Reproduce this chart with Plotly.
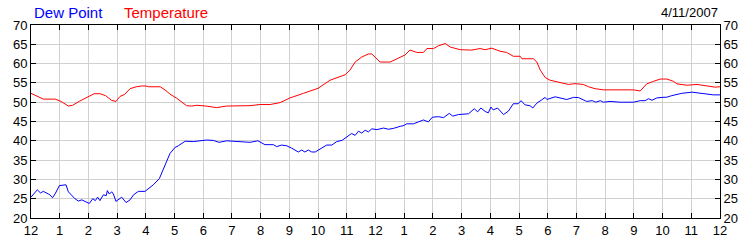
import plotly.graph_objects as go

# Hours since midnight (0..24) and readings
temp_hours = [0, 0.2, 0.43, 0.84, 1.05, 1.3, 1.45, 1.7, 1.95, 2.2, 2.4, 2.6, 2.8, 2.96, 3.1, 3.26, 3.45,
              3.67, 3.85, 4.0, 4.1, 4.5, 4.7, 4.84, 5.08, 5.25, 5.42, 5.6, 5.77, 6.1, 6.47, 6.81, 7.3,
              7.63, 7.98, 8.33, 8.68, 9.02, 9.49, 10.0, 10.42, 10.94, 11.11, 11.29, 11.52, 11.75, 11.87,
              12.16, 12.51, 12.74, 13.03, 13.2, 13.44, 13.67, 13.79, 14.02, 14.19, 14.43, 14.6, 14.95,
              15.35, 15.64, 15.82, 16.05, 16.34, 16.57, 16.8, 17.04, 17.1, 17.5, 17.62, 17.74, 17.91,
              18.08, 18.37, 18.72, 18.95, 19.24, 19.42, 19.65, 19.94, 20.99, 21.22, 21.45, 21.68, 21.92,
              22.15, 22.38, 22.5, 22.85, 23.2, 23.54, 23.83, 24.0]
temperature = [52.3, 51.6, 50.8, 50.8, 50.2, 49.0, 49.2, 50.3, 51.3, 52.2, 52.2, 51.7, 50.5, 50.2, 51.5,
               52.0, 53.5, 54.0, 54.2, 54.2, 54.0, 54.0, 53.0, 52.1, 51.0, 50.0, 49.1, 49.0, 49.2, 49.0,
               48.6, 49.0, 49.0, 49.1, 49.4, 49.4, 49.9, 51.1, 52.3, 53.6, 55.7, 57.1, 58.3, 60.4, 61.7,
               62.5, 62.5, 60.4, 60.4, 61.25, 62.25, 63.5, 62.9, 62.9, 63.9, 63.9, 64.6, 65.2, 64.3, 63.6,
               63.5, 63.9, 63.6, 64.0, 63.2, 62.9, 61.9, 61.9, 61.25, 61.25, 60.4, 58.3, 56.4, 55.7, 55.2,
               54.6, 54.8, 54.6, 54.0, 53.5, 53.2, 53.2, 52.9, 54.75, 55.4, 56.0, 56.0, 55.4, 54.75, 54.4,
               54.6, 54.3, 53.9, 54.0]

dew_hours = [0, 0.22, 0.33, 0.43, 0.6, 0.66, 0.75, 0.84, 0.99, 1.13, 1.22, 1.3, 1.42, 1.53, 1.65, 1.77,
             1.88, 2.03, 2.15, 2.24, 2.32, 2.4, 2.52, 2.62, 2.66, 2.73, 2.81, 2.87, 2.96, 3.16, 3.31, 3.45,
             3.57, 3.74, 3.97, 4.26, 4.47, 4.61, 4.73, 4.84, 5.02, 5.13, 5.37, 5.66, 6.12, 6.35, 6.55, 6.82,
             7.17, 7.52, 7.63, 7.9, 8.15, 8.44, 8.56, 8.73, 8.91, 9.08, 9.2, 9.31, 9.43, 9.54, 9.66, 9.78,
             9.9, 10.01, 10.13, 10.3, 10.48, 10.65, 10.83, 11.0, 11.17, 11.29, 11.41, 11.52, 11.64, 11.75,
             11.87, 12.05, 12.28, 12.45, 12.62, 12.86, 12.96, 13.09, 13.32, 13.67, 13.84, 13.98, 14.19,
             14.37, 14.57, 14.69, 14.89, 15.24, 15.44, 15.56, 15.67, 15.82, 15.93, 16.02, 16.1, 16.25,
             16.46, 16.63, 16.8, 16.97, 17.07, 17.21, 17.38, 17.48, 17.62, 17.79, 17.91, 17.97, 18.26,
             18.66, 18.9, 19.07, 19.36, 19.55, 19.67, 19.83, 19.94, 20.17, 20.52, 20.99, 21.22, 21.39,
             21.51, 21.63, 21.8, 21.98, 22.15, 22.32, 22.67, 23.02, 23.25, 23.54, 23.77, 24.0]
dew_point = [25.4, 27.3, 26.5, 26.9, 26.25, 26.0, 25.25, 26.25, 28.4, 28.6, 28.6, 26.8, 25.8, 25.0, 24.4,
             24.7, 24.3, 23.75, 25.0, 24.5, 25.4, 24.5, 26.0, 25.8, 27.1, 26.2, 26.8, 26.2, 24.3, 25.4,
             24.0, 24.7, 26.0, 26.9, 26.9, 28.6, 30.2, 32.9, 34.75, 36.7, 38.3, 38.7, 39.9, 39.8, 40.2,
             40.1, 39.6, 40.0, 39.8, 39.6, 39.6, 40.0, 39.0, 39.0, 38.5, 38.9, 38.7, 38.1, 37.5, 37.1,
             37.6, 37.1, 37.6, 37.1, 37.1, 37.6, 38.3, 38.9, 38.9, 39.8, 40.1, 41.1, 41.9, 41.4, 42.5,
             42.0, 42.75, 42.3, 43.1, 42.9, 43.3, 43.0, 43.2, 43.75, 43.9, 44.4, 44.4, 45.4, 44.9, 46.1,
             46.25, 46.0, 47.1, 46.4, 46.8, 47.0, 48.3, 47.5, 48.5, 47.6, 47.25, 48.75, 48.0, 48.5, 46.8,
             47.7, 49.6, 49.6, 50.4, 49.3, 49.1, 48.5, 49.75, 50.6, 51.25, 50.7, 51.4, 50.7, 51.25, 51.2,
             50.2, 50.4, 50.0, 50.4, 50.0, 50.2, 50.0, 50.0, 50.4, 50.4, 50.9, 50.5, 51.1, 51.25, 51.3,
             51.7, 52.3, 52.6, 52.4, 52.25, 51.9, 51.9]

x_tick_vals = list(range(0, 25))
x_tick_text = ["12", "1", "2", "3", "4", "5", "6", "7", "8", "9", "10", "11",
               "12", "1", "2", "3", "4", "5", "6", "7", "8", "9", "10", "11", "12"]
y_tick_vals = [20, 25, 30, 35, 40, 45, 50, 55, 60, 65, 70]
date_label = "4/11/2007"

FONT = "Liberation Sans, Arial, sans-serif"
GRID = "#d0d0d0"

fig = go.Figure()
fig.add_trace(go.Scatter(x=dew_hours, y=dew_point, mode="lines", name="Dew Point",
                         line=dict(color="#0000ff", width=1), yaxis="y"))
fig.add_trace(go.Scatter(x=temp_hours, y=temperature, mode="lines", name="Temperature",
                         line=dict(color="#ff0000", width=1), yaxis="y2"))

axis_font = dict(family=FONT, size=13, color="#000000")

fig.update_layout(
    width=750, height=250,
    margin=dict(l=31, r=30, t=25, b=25, pad=0),
    paper_bgcolor="white", plot_bgcolor="white",
    showlegend=False,
    xaxis=dict(range=[0, 24], tickvals=x_tick_vals, ticktext=x_tick_text,
               showgrid=True, gridcolor=GRID, gridwidth=1, zeroline=False,
               showline=True, linecolor="black", linewidth=1, mirror="ticks",
               ticks="inside", ticklen=5, tickcolor="black", tickfont=axis_font),
    yaxis=dict(range=[20, 70], tickvals=y_tick_vals, showgrid=True, gridcolor=GRID,
               zeroline=False, showline=True, linecolor="black", linewidth=1,
               ticks="inside", ticklen=5, tickcolor="black", tickfont=axis_font),
    yaxis2=dict(range=[20, 70], tickvals=y_tick_vals, overlaying="y", side="right",
                showgrid=False, zeroline=False, showline=True, linecolor="black",
                linewidth=1, ticks="inside", ticklen=5, tickcolor="black",
                tickfont=axis_font),
    annotations=[
        dict(text="Dew Point", xref="paper", yref="paper", x=0, y=1, xanchor="left",
             yanchor="bottom", xshift=1, yshift=2, showarrow=False,
             font=dict(family=FONT, size=15, color="#0000ff")),
        dict(text="Temperature", xref="paper", yref="paper", x=0, y=1, xanchor="left",
             yanchor="bottom", xshift=91, yshift=2, showarrow=False,
             font=dict(family=FONT, size=15, color="#ff0000")),
        dict(text=date_label, xref="paper", yref="paper", x=1, y=1, xanchor="right",
             yanchor="bottom", xshift=0, yshift=3, showarrow=False,
             font=dict(family=FONT, size=13, color="#000000")),
    ],
)

fig.write_html("out.html")
